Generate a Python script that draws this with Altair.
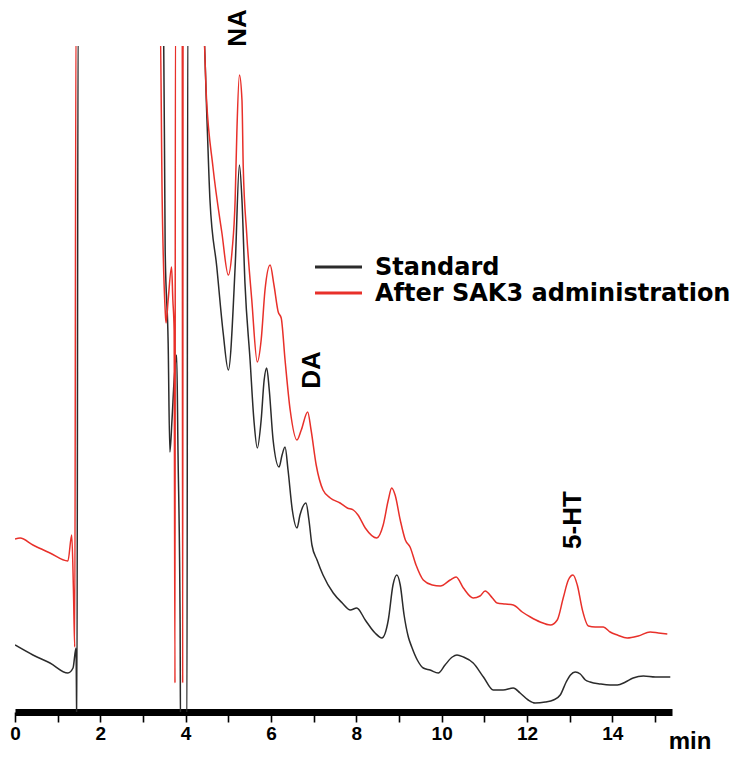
import altair as alt
import pandas as pd

# ---- data (time in min, signal in arbitrary units) ----
series_names = ["Standard", "After SAK3 administration"]
series_colors = ["#2b2b2b", "#e8302a"]

std_t = [0.00, 0.42, 0.82, 1.24, 1.36, 1.43, 1.45, 1.48,
         3.48, 3.52, 3.59, 3.63, 3.68, 3.73, 3.79, 3.82, 3.87, 3.88, 4.03, 4.05,
         4.40, 4.50, 4.57, 4.73, 4.88, 5.00, 5.16, 5.26, 5.32, 5.39, 5.51, 5.60, 5.68,
         5.77, 5.84, 5.90, 5.96, 6.05, 6.19, 6.26, 6.33, 6.40, 6.50, 6.61, 6.68, 6.82,
         6.89, 6.96, 7.08, 7.22, 7.46, 7.67, 7.86, 8.01, 8.21, 8.44, 8.60, 8.75, 8.86,
         8.95, 9.03, 9.12, 9.22, 9.30, 9.43, 9.57, 9.73, 9.92, 10.08, 10.25, 10.36,
         10.51, 10.74, 10.98, 11.21, 11.44, 11.68, 11.84, 12.03, 12.19, 12.43, 12.62,
         12.78, 12.92, 13.02, 13.13, 13.25, 13.37, 13.48, 13.72, 13.95, 14.12, 14.31,
         14.49, 14.73, 15.01, 15.36]
std_v = [67, 57, 49, 39, 44, 64, -20, 700,
         700, 462, 369, 260, 292, 332, 357, 262, 89, -20, -20, 700,
         700, 592, 512, 445, 379, 342, 445, 547, 512, 429, 352, 292, 264,
         292, 332, 344, 322, 272, 245, 257, 265, 242, 202, 184, 197, 209,
         192, 167, 152, 137, 119, 109, 102, 104, 92, 79, 74, 92, 127,
         137, 127, 97, 75, 65, 52, 44, 42, 39, 47, 55, 57,
         55, 49, 35, 22, 22, 24, 19, 12, 9, 10, 12,
         17, 30, 37, 40, 38, 32, 30, 28, 27, 27, 30,
         34, 36, 35, 35]

sak_t = [0.00, 0.12, 0.42, 0.82, 1.24, 1.33, 1.37, 1.40, 1.43,
         3.40, 3.45, 3.52, 3.54, 3.59, 3.67, 3.70, 3.73, 3.75, 3.76, 3.92, 3.93, 3.94,
         4.40, 4.49, 4.64, 4.85, 5.00, 5.09, 5.16, 5.20, 5.26, 5.32, 5.35, 5.43, 5.55,
         5.68, 5.77, 5.86, 5.98, 6.07, 6.17, 6.24, 6.33, 6.45, 6.61, 6.71, 6.86, 6.94,
         7.06, 7.22, 7.39, 7.62, 7.79, 7.93, 8.04, 8.21, 8.48, 8.63, 8.75, 8.83, 8.91,
         9.03, 9.15, 9.26, 9.40, 9.57, 9.78, 9.97, 10.20, 10.34, 10.51, 10.74, 10.90,
         11.02, 11.19, 11.30, 11.49, 11.68, 11.89, 12.08, 12.31, 12.55, 12.71, 12.85,
         12.97, 13.08, 13.18, 13.30, 13.44, 13.60, 13.79, 13.95, 14.12, 14.35, 14.61,
         14.89, 15.08, 15.29]
sak_v = [173, 174, 167, 159, 151, 177, 122, 65, 700,
         700, 512, 402, 389, 412, 445, 412, 382, 29, 700, 700, 29, 700,
         700, 612, 545, 479, 437, 462, 512, 579, 637, 612, 545, 479, 412,
         350, 372, 422, 447, 427, 400, 394, 352, 302, 272, 282, 300, 282,
         247, 222, 214, 209, 204, 202, 197, 184, 174, 187, 212, 224, 217,
         192, 172, 165, 147, 132, 127, 126, 132, 135, 124, 114, 116,
         121, 114, 109, 108, 107, 100, 95, 90, 87, 92, 114,
         132, 137, 127, 102, 86, 85, 85, 80, 77, 74, 76,
         80, 79, 78]

peak_labels = ["NA", "DA", "5-HT"]
peak_t = [5.23, 6.97, 13.09]
peak_v = [684, 342, 192]

x_ticks = list(range(0, 16))
x_max = 15.4
y_max = 666

FONT = "Liberation Sans, Arial, sans-serif"
LEG_FONT = "DejaVu Sans, Liberation Sans, sans-serif"

rows = []
for name, ts, vs in [(series_names[0], std_t, std_v), (series_names[1], sak_t, sak_v)]:
    for i, (t, v) in enumerate(zip(ts, vs)):
        rows.append({"series": name, "t": t, "v": v, "idx": i})
df = pd.DataFrame(rows)

peaks = pd.DataFrame({"label": peak_labels, "t": peak_t, "v": peak_v})

xscale = alt.Scale(domain=[0, x_max], nice=False, zero=False)
yscale = alt.Scale(domain=[0, y_max], nice=False, zero=False)
cscale = alt.Scale(domain=series_names, range=series_colors)

lines = alt.Chart(df).mark_line(strokeWidth=1.5, clip=True, interpolate="monotone").encode(
    x=alt.X("t:Q", scale=xscale,
            axis=alt.Axis(title=None, values=x_ticks,
                          labelExpr="datum.value % 2 == 0 ? datum.label : ''",
                          grid=False, domainWidth=7, domainColor="black",
                          tickColor="black", tickSize=10, tickWidth=1.6,
                          labelFont=FONT, labelFontSize=19, labelFontWeight="bold",
                          labelColor="black", labelPadding=2, labelFlush=False)),
    y=alt.Y("v:Q", scale=yscale, axis=None),
    color=alt.Color("series:N", scale=cscale, legend=None),
    order=alt.Order("idx:Q"),
    detail="series:N",
)

peak_text = alt.Chart(peaks).mark_text(
    angle=270, align="center", baseline="middle", font=FONT,
    fontSize=26, fontWeight="bold", color="black"
).encode(
    x=alt.X("t:Q", scale=xscale),
    y=alt.Y("v:Q", scale=yscale, axis=None),
    text="label:N",
)

leg_df = pd.DataFrame({"series": series_names, "row": [0, 1]})
leg_y = alt.Scale(domain=[0, 1], range=[221, 247])
leg_rule = alt.Chart(leg_df).mark_rule(strokeWidth=3).encode(
    x=alt.value(300), x2=alt.value(347),
    y=alt.Y("row:Q", scale=leg_y, axis=None),
    color=alt.Color("series:N", scale=cscale, legend=None),
)
leg_text = alt.Chart(leg_df).mark_text(
    align="left", baseline="middle", font=LEG_FONT, fontSize=24,
    fontWeight="bold", color="black", dy=1
).encode(
    x=alt.value(360),
    y=alt.Y("row:Q", scale=leg_y, axis=None),
    text="series:N",
)

unit_df = pd.DataFrame({"unit": ["min"]})
unit_text = alt.Chart(unit_df).mark_text(
    align="center", baseline="alphabetic", font=FONT, fontSize=24,
    fontWeight="bold", color="black"
).encode(x=alt.value(675), y=alt.value(703), text="unit:N")

chart = alt.layer(lines, peak_text, leg_rule, leg_text, unit_text).resolve_scale(
    y="independent"
).properties(
    width=657, height=666,
    autosize=alt.AutoSizeParams(type="none"),
    padding={"left": 7, "top": 38, "right": 68, "bottom": 43},
).configure_view(stroke=None)

chart.save("out.html", embed_options={"renderer": "svg", "actions": False})
